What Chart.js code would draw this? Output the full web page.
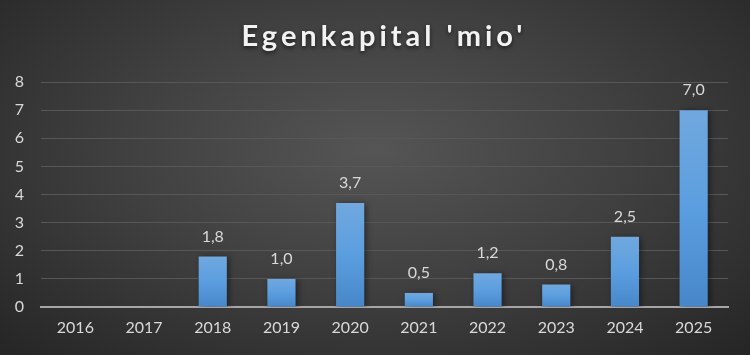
<!DOCTYPE html>
<html><head><meta charset="utf-8">
<script src="https://cdn.jsdelivr.net/npm/chart.js@4"></script>
<style>
html,body{margin:0;padding:0;}
body{width:750px;height:355px;overflow:hidden;background:radial-gradient(ellipse 70% 80% at 50% 42%, #555555 0%, #3f3f3f 50%, #262626 100%);}
#wrap{width:750px;height:355px;position:relative;}
</style></head>
<body><div id="wrap"><canvas id="c" width="750" height="355"></canvas></div>
<script>
const titleText = "Egenkapital 'mio'";
const categories = ["2016","2017","2018","2019","2020","2021","2022","2023","2024","2025"];
const values = [null,null,1.8,1.0,3.7,0.5,1.2,0.8,2.5,7.0];
const yTicks = [0,1,2,3,4,5,6,7,8];

const FONT = "Lato, 'Open Sans', sans-serif";

const titlePlugin = {
  id:'customTitle',
  afterDraw(chart){
    const ctx = chart.ctx;
    ctx.save();
    ctx.font = "bold 29px " + FONT;
    try{ ctx.letterSpacing = "4px"; }catch(e){}
    ctx.fillStyle = "#f2f2f2";
    ctx.textAlign = "center";
    ctx.textBaseline = "middle";
    ctx.shadowColor = "rgba(0,0,0,0.6)";
    ctx.shadowBlur = 4;
    ctx.shadowOffsetY = 2;
    ctx.fillText(titleText, 384, 37);
    ctx.restore();
  }
};

const labelPlugin = {
  id:'valueLabels',
  afterDatasetsDraw(chart){
    const ctx = chart.ctx;
    const meta = chart.getDatasetMeta(0);
    ctx.save();
    ctx.font = "16px " + FONT;
    ctx.fillStyle = "#d9d9d9";
    ctx.textAlign = "center";
    ctx.textBaseline = "middle";
    meta.data.forEach((bar,i)=>{
      const v = values[i];
      if(v===null || v===undefined) return;
      ctx.fillText(v.toFixed(1).replace('.',','), bar.x, bar.y - 20);
    });
    ctx.restore();
  }
};

const shadowPlugin = {
  id:'barShadow',
  beforeDatasetsDraw(chart){
    chart.ctx.save();
    chart.ctx.shadowColor = "rgba(0,0,0,0.45)";
    chart.ctx.shadowBlur = 6;
    chart.ctx.shadowOffsetX = 2;
    chart.ctx.shadowOffsetY = 1;
  },
  afterDatasetsDraw(chart){
    chart.ctx.restore();
  }
};

function barGradient(context){
  const chart = context.chart;
  const area = chart.chartArea;
  if(!area) return "#5b9bd5";
  const y0 = chart.scales.y.getPixelForValue(0);
  const v = values[context.dataIndex] || 0;
  const yt = chart.scales.y.getPixelForValue(v);
  const g = chart.ctx.createLinearGradient(0, yt, 0, y0);
  g.addColorStop(0, "#71a8de");
  g.addColorStop(0.5, "#5b9edf");
  g.addColorStop(1, "#4787c9");
  return g;
}

new Chart(document.getElementById('c'), {
  type:'bar',
  data:{
    labels:categories,
    datasets:[{
      data:values,
      backgroundColor:barGradient,
      borderWidth:0,
      barPercentage:0.82,
      categoryPercentage:0.5
    }]
  },
  options:{
    responsive:false,
    animation:false,
    layout:{padding:{top:82,right:22,bottom:8,left:0}},
    plugins:{legend:{display:false},tooltip:{enabled:false},title:{display:false}},
    scales:{
      x:{
        grid:{display:false, drawTicks:false},
        border:{display:true,color:"#a6a6a6",width:2},
        ticks:{color:"#d9d9d9",font:{family:FONT,size:16},padding:11},
        afterFit(scale){ scale.height = 40; }
      },
      y:{
        min:0,max:8,
        afterBuildTicks(scale){ scale.ticks = yTicks.map(v=>({value:v})); },
        grid:{color:"#575757",lineWidth:1,drawTicks:false},
        border:{display:false},
        ticks:{color:"#d9d9d9",font:{family:FONT,size:16},padding:17,stepSize:1},
        afterFit(scale){ scale.width = 41; }
      }
    }
  },
  plugins:[shadowPlugin,labelPlugin,titlePlugin]
});
</script></body></html>
